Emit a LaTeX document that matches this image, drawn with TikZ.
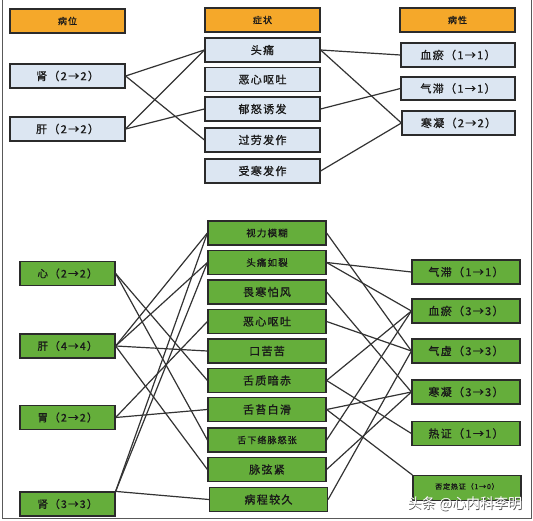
\documentclass[tikz,border=0pt]{standalone}
\usepackage{fontspec}
\newfontfamily\cjk[FakeBold=1.2,LetterSpace=12]{Noto Sans CJK SC}
\newfontfamily\cjkw{Noto Sans CJK SC}
\definecolor{hdr}{HTML}{F5A82A}
\definecolor{lblue}{HTML}{DCE6F2}
\definecolor{grn}{HTML}{65AE3B}
\definecolor{edge}{HTML}{2B2B2B}
\definecolor{wire}{HTML}{333333}
\tikzset{
  base/.style={draw=edge, line width=1.2pt, inner sep=0pt, font=\cjk, text=black!90},
  hdrbox/.style={base, fill=hdr, minimum width=115pt, minimum height=24pt, font=\cjk\fontsize{9}{10}\selectfont},
  topbox/.style={base, fill=lblue, minimum height=24pt, font=\cjk\fontsize{11}{12}\selectfont},
  grnbox/.style={base, fill=grn, minimum height=24pt, font=\cjk\fontsize{9.5}{11}\selectfont},
  wirel/.style={draw=wire, line width=1.2pt},
}
\begin{document}
\begin{tikzpicture}[x=1pt,y=-1pt]
\useasboundingbox (0,0) rectangle (533,521);
\fill[white] (0,0) rectangle (533,521);
\draw[gray!70!black, line width=1pt] (2,-2) -- (2,518) -- (531,518) -- (531,-2);
% headers
\node[hdrbox] (h1) at (67.5,21) {病位};
\node[hdrbox] (h2) at (262.5,20) {症状};
\node[hdrbox] (h3) at (457.5,20) {病性};
% top left
\node[topbox, minimum width=115pt] (tl1) at (67.5,76) {肾（2→2）};
\node[topbox, minimum width=115pt] (tl2) at (67.5,129) {肝（2→2）};
% top middle
\node[topbox, minimum width=115pt] (tm1) at (262.5,50) {头痛};
\node[topbox, minimum width=115pt] (tm2) at (262.5,79.5) {恶心呕吐};
\node[topbox, minimum width=115pt] (tm3) at (262.5,109) {郁怒诱发};
\node[topbox, minimum width=115pt] (tm4) at (262.5,140) {过劳发作};
\node[topbox, minimum width=115pt] (tm5) at (262.5,171) {受寒发作};
% top right
\node[topbox, minimum width=114pt] (tr1) at (458,55) {血瘀（1→1）};
\node[topbox, minimum width=114pt, minimum height=23pt] (tr2) at (458,88.5) {气滞（1→1）};
\node[topbox, minimum width=113pt] (tr3) at (458.5,123) {寒凝（2→2）};
% top wires
\draw[wirel] (tl1.east) -- (tm1.west);
\draw[wirel] (tl1.east) -- (tm4.west);
\draw[wirel] (tl2.east) -- (tm1.west);
\draw[wirel] (tl2.east) -- (tm3.west);
\draw[wirel] (tm1.east) -- (tr1.west);
\draw[wirel] (tm1.east) -- (tr3.west);
\draw[wirel] (tm3.east) -- (tr2.west);
\draw[wirel] (tm5.east) -- (tr3.west);
% bottom left
\node[grnbox, minimum width=95pt, font=\cjk\fontsize{10.5}{12}\selectfont] (bl1) at (67.5,273.5) {心（2→2）};
\node[grnbox, minimum width=95pt, font=\cjk\fontsize{10.5}{12}\selectfont] (bl2) at (67.5,346) {肝（4→4）};
\node[grnbox, minimum width=95pt, font=\cjk\fontsize{10.5}{12}\selectfont] (bl3) at (67.5,417.5) {胃（2→2）};
\node[grnbox, minimum width=95pt, font=\cjk\fontsize{10.5}{12}\selectfont] (bl4) at (67.5,504) {肾（3→3）};
% bottom middle
\node[grnbox, minimum width=118pt] (bm1) at (267,233) {视力模糊};
\node[grnbox, minimum width=118pt] (bm2) at (267,262.5) {头痛如裂};
\node[grnbox, minimum width=118pt, font=\cjk\fontsize{11}{12}\selectfont] (bm3) at (267,292) {畏寒怕风};
\node[grnbox, minimum width=118pt, font=\cjk\fontsize{11}{12}\selectfont] (bm4) at (267,321.5) {恶心呕吐};
\node[grnbox, minimum width=118pt, font=\cjk\fontsize{11}{12}\selectfont] (bm5) at (267,351) {口苦苦};
\node[grnbox, minimum width=118pt, font=\cjk\fontsize{11}{12}\selectfont] (bm6) at (267,380.5) {舌质暗赤};
\node[grnbox, minimum width=118pt, font=\cjk\fontsize{11}{12}\selectfont] (bm7) at (267,409.5) {舌苔白滑};
\node[grnbox, minimum width=118pt, font=\cjk\fontsize{9}{10}\selectfont] (bm8) at (267,440) {舌下络脉怒张};
\node[grnbox, minimum width=118pt, font=\cjk\fontsize{11}{12}\selectfont] (bm9) at (267,469.5) {脉弦紧};
\node[grnbox, minimum width=118pt, font=\cjk\fontsize{11}{12}\selectfont] (bm10) at (268.5,499.5) {病程较久};
% bottom right
\node[grnbox, minimum width=108pt, font=\cjk\fontsize{11}{12}\selectfont] (br1) at (466,272) {气滞（1→1）};
\node[grnbox, minimum width=108pt, font=\cjk\fontsize{11}{12}\selectfont] (br2) at (466,311) {血瘀（3→3）};
\node[grnbox, minimum width=108pt, font=\cjk\fontsize{11}{12}\selectfont] (br3) at (466,351) {气虚（3→3）};
\node[grnbox, minimum width=108pt, font=\cjk\fontsize{11}{12}\selectfont] (br4) at (466,392) {寒凝（3→3）};
\node[grnbox, minimum width=108pt, font=\cjk\fontsize{11}{12}\selectfont] (br5) at (466,433.5) {热证（1→1）};
\node[grnbox, minimum width=108pt, minimum height=25pt, font=\cjk\fontsize{7}{8}\selectfont, anchor=north] (br6) at (467,475) {\raisebox{4pt}{否定热证（1→0）}};
% bottom left wires
\draw[wirel] (bl1.east) -- (bm6.west);
\draw[wirel] (bl1.east) -- (bm8.west);
\draw[wirel] (bl2.east) -- (bm1.west);
\draw[wirel] (bl2.east) -- (bm2.west);
\draw[wirel] (bl2.east) -- (bm5.west);
\draw[wirel] (bl2.east) -- (bm9.west);
\draw[wirel] (bl3.east) -- (bm4.west);
\draw[wirel] (bl3.east) -- (bm7.west);
\draw[wirel] (bl4.north east) -- (bm1.west);
\draw[wirel] (bl4.north east) -- (bm2.west);
\draw[wirel] (bl4.north east) -- (bm10.west);
% bottom right wires
\draw[wirel] (bm1.east) -- (br3.west);
\draw[wirel] (bm2.east) -- (br1.west);
\draw[wirel] (bm2.east) -- (br2.west);
\draw[wirel] (bm3.east) -- (br4.west);
\draw[wirel] (bm4.east) -- (br3.west);
\draw[wirel] (bm6.east) -- (br2.west);
\draw[wirel] (bm6.east) -- (br5.west);
\draw[wirel] (bm7.east) -- (br4.west);
\draw[wirel] (bm7.east) -- (br6.north west);
\draw[wirel] (bm8.east) -- (br2.west);
\draw[wirel] (bm9.east) -- (br4.west);
\draw[wirel] (bm10.east) -- (br3.west);
% watermark
\node[font=\cjkw\fontsize{14}{15}\selectfont, text=black!70, inner sep=0pt] (wm0) at (465.6,504.6) {头条 @心内科李明};
\node[font=\cjkw\fontsize{14}{15}\selectfont, text=white, inner sep=0pt] (wm) at (465,504) {头条 @心内科李明};
\end{tikzpicture}
\end{document}
